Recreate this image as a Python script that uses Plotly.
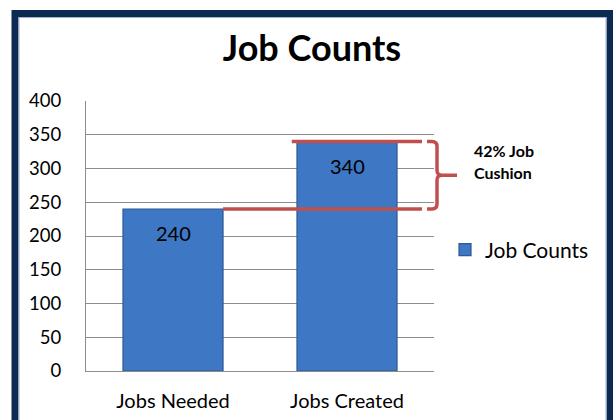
import plotly.graph_objects as go

categories = ["Jobs Needed", "Jobs Created"]
values = [240, 340]
series_name = "Job Counts"
y_ticks = [0, 50, 100, 150, 200, 250, 300, 350, 400]
note_lines = ["42% Job", "Cushion"]

W, H = 613, 420
ML, MR, MT, MB = 86, 179, 101, 49
YMAX = 400
FONT = "Lato"
RED = "#c0504d"
NAVY = "#0c2a52"

pw = W - ML - MR
ph = H - MT - MB

def px_x(px):
    return (px - ML) / pw

def px_y(py):
    return (H - MB - py) / ph

fig = go.Figure()
fig.add_trace(go.Bar(
    x=categories, y=values, name=series_name, width=0.575,
    marker=dict(color="#3e77c3", line=dict(color="#2d5a94", width=1.2)),
    showlegend=True,
))

for c, v in zip(categories, values):
    fig.add_annotation(x=c, y=v, text=str(v), showarrow=False, yanchor="top",
                       yshift=-10, font=dict(family=FONT, size=20, color="#000"))

shapes = []
lo, hi = min(values), max(values)
bar_half = 0.575 / 2
x_lo_start = (0 + bar_half + 0.5) / 2
x_hi_start = (1 - bar_half - 0.03 + 0.5) / 2
x_end = px_x(422)
shapes.append(dict(type="line", xref="paper", yref="paper", x0=x_lo_start, x1=x_end,
                   y0=lo / YMAX, y1=lo / YMAX, line=dict(color=RED, width=3.5)))
shapes.append(dict(type="line", xref="paper", yref="paper", x0=x_hi_start, x1=x_end,
                   y0=hi / YMAX, y1=hi / YMAX, line=dict(color=RED, width=3.5)))
bx0 = px_x(427)
bx = px_x(437)
btip = px_x(457)
yt = hi / YMAX
yb = lo / YMAX
ym = (yt + yb) / 2
r = 5 / ph
rx = 5 / pw
path = (f"M{bx0},{yt} L{bx - rx},{yt} Q{bx},{yt} {bx},{yt - r} L{bx},{ym + r} "
        f"Q{bx},{ym} {bx + rx},{ym} L{btip},{ym} M{bx + rx},{ym} Q{bx},{ym} {bx},{ym - r} "
        f"L{bx},{yb + r} Q{bx},{yb} {bx - rx},{yb} L{bx0},{yb}")
shapes.append(dict(type="path", xref="paper", yref="paper", path=path,
                   line=dict(color=RED, width=3.5)))
shapes.append(dict(type="rect", xref="paper", yref="paper",
                   x0=px_x(15), x1=px_x(610), y0=px_y(440), y1=px_y(13.5),
                   line=dict(color=NAVY, width=7), fillcolor="rgba(0,0,0,0)"))
shapes.append(dict(type="rect", xref="paper", yref="paper",
                   x0=px_x(19), x1=px_x(606), y0=px_y(440), y1=px_y(17.5),
                   line=dict(color="#9fb4cc", width=1), fillcolor="rgba(0,0,0,0)"))

for line_text, py in zip(note_lines, [150.5, 172.5]):
    fig.add_annotation(xref="paper", yref="paper", x=px_x(472), y=px_y(py),
                       xanchor="left", yanchor="middle", align="left", showarrow=False,
                       text="<b>" + line_text + "</b>",
                       font=dict(family=FONT, size=16, color="#000"))

fig.update_layout(
    width=W, height=H,
    margin=dict(l=ML, r=MR, t=MT, b=MB),
    paper_bgcolor="white", plot_bgcolor="white",
    title=dict(text="<b>Job Counts</b>", x=312 / W, xanchor="center", xref="container",
               y=1 - 48 / H, yanchor="middle", yref="container",
               font=dict(family=FONT, size=36, color="#000")),
    shapes=shapes,
    legend=dict(x=px_x(445), y=px_y(250), xanchor="left", yanchor="middle",
                font=dict(family=FONT, size=21, color="#000"), bgcolor="rgba(0,0,0,0)"),
    font=dict(family=FONT, color="#000"),
)
fig.update_yaxes(range=[0, YMAX], tickvals=y_ticks, showgrid=True, gridcolor="#8c8c8c",
                 gridwidth=1, showline=True, linecolor="#8c8c8c", linewidth=1,
                 zeroline=False, ticks="", ticklabelstandoff=20, automargin=False,
                 tickfont=dict(family=FONT, size=18.5, color="#000"))
fig.update_xaxes(showline=True, linecolor="#8c8c8c", linewidth=1, ticks="",
                 ticklabelstandoff=12, range=[-0.5, 1.5], automargin=False,
                 tickfont=dict(family=FONT, size=20, color="#000"))

fig.write_html("out.html")
